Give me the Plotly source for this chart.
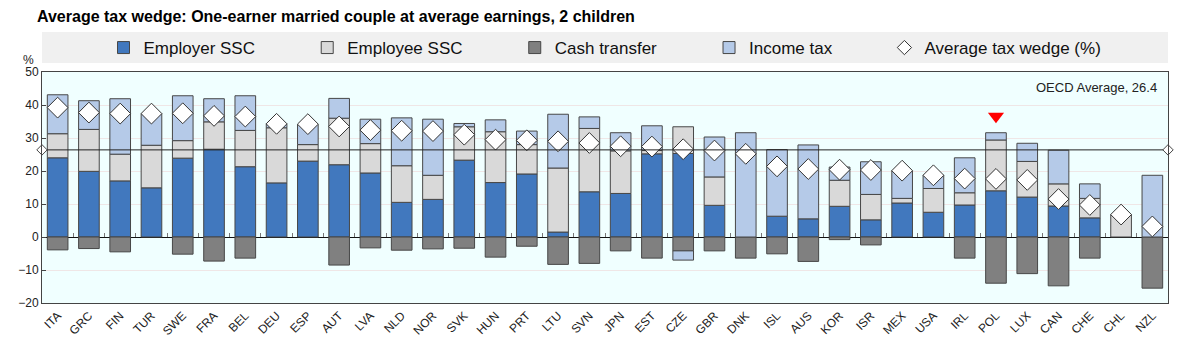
import plotly.graph_objects as go

countries = ["ITA", "GRC", "FIN", "TUR", "SWE", "FRA", "BEL", "DEU", "ESP", "AUT",
             "LVA", "NLD", "NOR", "SVK", "HUN", "PRT", "LTU", "SVN", "JPN", "EST",
             "CZE", "GBR", "DNK", "ISL", "AUS", "KOR", "ISR", "MEX", "USA", "IRL",
             "POL", "LUX", "CAN", "CHE", "CHL", "NZL"]

employer_ssc = [24.0, 19.9, 17.0, 14.9, 23.9, 26.6, 21.3, 16.4, 23.0, 21.9,
                19.4, 10.5, 11.4, 23.3, 16.5, 19.1, 1.5, 13.7, 13.2, 25.2,
                25.3, 9.6, 0.0, 6.3, 5.5, 9.3, 5.2, 10.3, 7.5, 9.7,
                14.0, 12.1, 9.4, 5.8, 0.0, 0.0]
employee_ssc = [7.3, 12.7, 8.1, 12.9, 5.3, 8.3, 11.0, 16.7, 5.0, 14.1,
                8.9, 11.1, 7.3, 10.1, 15.4, 8.9, 19.4, 19.2, 12.9, 1.0,
                8.1, 8.6, 0.0, 0.0, 0.0, 7.9, 7.7, 1.4, 7.2, 3.7,
                15.4, 10.8, 6.7, 5.9, 6.8, 0.0]
cash_transfer = [-3.9, -3.5, -4.5, 0.0, -5.2, -7.3, -6.4, 0.0, 0.0, -8.5,
                 -3.3, -4.0, -3.6, -3.4, -6.1, -2.8, -8.3, -8.0, -4.2, -6.4,
                 -4.2, -4.2, -6.4, -5.1, -7.4, -0.8, -2.4, 0.0, 0.0, -6.4,
                 -14.0, -11.1, -14.8, -6.4, 0.0, -15.5]
income_tax = [11.8, 8.7, 16.8, 9.6, 13.6, 7.0, 10.5, 1.2, 6.1, 6.0,
              7.4, 14.5, 17.0, 1.0, 3.6, 4.1, 16.3, 3.5, 5.5, 7.5,
              -2.8, 12.1, 31.6, 20.2, 22.4, 4.0, 9.9, 8.4, 4.0, 10.6,
              2.2, 5.5, 10.2, 4.4, 0.0, 18.7]
tax_wedge = [39.2, 37.7, 37.4, 37.4, 37.5, 36.7, 36.5, 34.3, 34.2, 33.5,
             32.4, 32.2, 32.1, 31.0, 29.5, 29.3, 29.0, 28.5, 27.5, 27.4,
             26.6, 26.2, 25.2, 21.4, 20.6, 20.4, 20.3, 20.1, 18.7, 17.7,
             17.6, 17.3, 11.5, 9.7, 6.8, 3.2]
oecd_average = 26.4
highlight_country = "POL"

n = len(countries)
xs = list(range(n))
FONT = "Liberation Sans, Arial, sans-serif"
OUTLINE = dict(color="#474747", width=1)
PAD = "\u00a0" * 10

fig = go.Figure()
series = [
    ("Employer SSC", employer_ssc, "#4178BE"),
    ("Employee SSC", employee_ssc, "#D9D9D9"),
    ("Cash transfer", cash_transfer, "#808080"),
    ("Income tax", income_tax, "#B5CAE8"),
]
for name, vals, col in series:
    fig.add_trace(go.Bar(
        x=xs, y=[v if v != 0 else None for v in vals], name=name + PAD,
        marker=dict(color=col, line=OUTLINE), width=0.66, hoverinfo="y+name",
    ))

# OECD average line (on overlay axis that also draws boundary ticks at zero)
fig.add_trace(go.Scatter(
    x=[-0.5, n - 0.5], y=[oecd_average, oecd_average], mode="lines+markers",
    line=dict(color="#222222", width=1),
    marker=dict(symbol="diamond", size=8, color="white", line=dict(color="#444", width=1)),
    showlegend=False, xaxis="x2", cliponaxis=False, hoverinfo="skip",
))

fig.add_trace(go.Scatter(
    x=xs, y=tax_wedge, mode="markers", name="Average tax wedge (%)", showlegend=False,
    marker=dict(symbol="diamond", size=16, color="white", line=dict(color="#333", width=1)),
))
# legend entry with a smaller diamond
fig.add_trace(go.Scatter(
    x=[None], y=[None], mode="markers", name="Average tax wedge (%)",
    marker=dict(symbol="diamond", size=11, color="white", line=dict(color="#333", width=1)),
))

hi = countries.index(highlight_country)
hi_top = employer_ssc[hi] + employee_ssc[hi] + max(income_tax[hi], 0)
fig.add_trace(go.Scatter(
    x=[hi], y=[hi_top + 5], mode="markers", showlegend=False,
    marker=dict(symbol="triangle-down", size=14, color="#FF0000", line=dict(width=0)),
))

# page body has an 8px margin; compensate so the plot lands where the reference has it
plot_h = 303 - 72
fig.update_layout(
    width=1192, height=358, autosize=False,
    margin=dict(l=34, r=32, t=64, b=63, autoexpand=False),
    barmode="relative", bargap=0.34,
    plot_bgcolor="#F0FFFF", paper_bgcolor="white",
    font=dict(family=FONT, size=12, color="#222"),
    legend=dict(orientation="h", x=0.5, xanchor="center",
                y=1 + (72 - 48) / plot_h, yanchor="middle",
                bgcolor="rgba(0,0,0,0)", font=dict(family=FONT, size=17, color="#111"),
                traceorder="normal", itemclick=False),
    xaxis=dict(range=[-0.5, n - 0.5], tickmode="array", tickvals=xs, ticktext=countries,
               tickangle=-45, ticks="", showgrid=False, zeroline=False, automargin=False,
               showline=True, linecolor="#444", linewidth=1, mirror=True,
               tickfont=dict(family=FONT, size=12, color="#222")),
    xaxis2=dict(range=[-0.5, n - 0.5], overlaying="x", anchor="free",
                position=20 / 70, tickmode="array",
                tickvals=[i + 0.5 for i in range(n - 1)], ticks="inside",
                ticklen=4, tickcolor="#777", showticklabels=False,
                showgrid=False, zeroline=False, showline=False),
    yaxis=dict(range=[-20, 50], dtick=10, ticks="inside", ticklen=4, tickcolor="#444",
               showgrid=True, gridcolor="#EFE6E6", gridwidth=1, automargin=False,
               zeroline=True, zerolinecolor="#111", zerolinewidth=1,
               showline=True, linecolor="#444", linewidth=1, mirror=True,
               tickfont=dict(family=FONT, size=12, color="#222")),
    shapes=[dict(type="rect", xref="paper", yref="paper", x0=0, x1=1,
                 y0=1 + (72 - 63) / plot_h, y1=1 + (72 - 32) / plot_h,
                 fillcolor="#F0F0F0", line=dict(width=0), layer="below")],
    annotations=[
        dict(text="<b>Average tax wedge: One-earner married couple at average earnings, 2 children</b>",
             xref="paper", yref="paper", x=(36 - 42) / 1126, y=1 + (72 - 16) / plot_h,
             showarrow=False, xanchor="left", yanchor="middle", borderpad=0,
             font=dict(family=FONT, size=16, color="black")),
        dict(text="%", xref="paper", yref="paper", x=(28 - 42) / 1126, y=1 + (72 - 60) / plot_h,
             showarrow=False, xanchor="center", yanchor="middle", borderpad=0,
             font=dict(family=FONT, size=12, color="#222")),
        dict(text=f"OECD Average, {oecd_average}", xref="paper", yref="paper",
             x=(1159 - 42) / 1126, y=1 - (87 - 72) / plot_h, showarrow=False,
             xanchor="right", yanchor="middle",
             font=dict(family=FONT, size=13, color="#222")),
    ],
)

fig.write_html("out.html")
